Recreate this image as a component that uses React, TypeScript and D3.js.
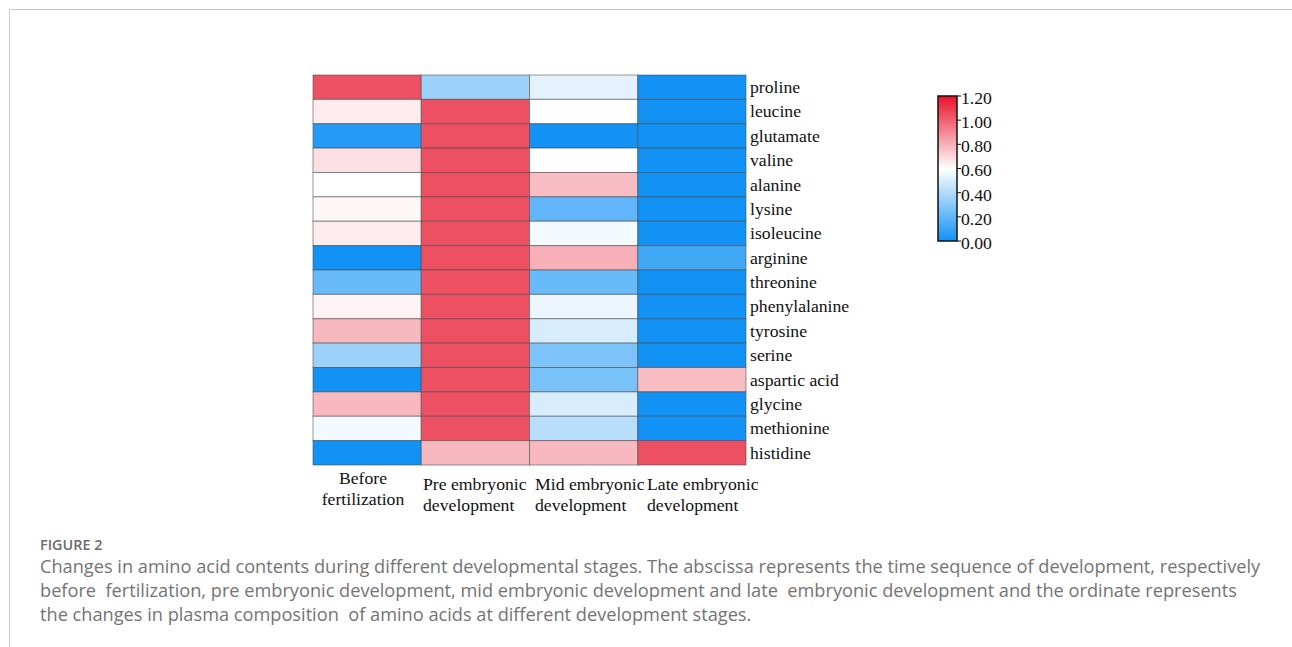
import React from "react";
import * as d3 from "d3";

const aminoAcids = [
  "proline", "leucine", "glutamate", "valine", "alanine", "lysine", "isoleucine",
  "arginine", "threonine", "phenylalanine", "tyrosine", "serine", "aspartic acid",
  "glycine", "methionine", "histidine",
];

const stages = [
  ["Before", "fertilization"],
  ["Pre embryonic", "development"],
  ["Mid embryonic", "development"],
  ["Late embryonic", "development"],
];

// relative content per stage, one value per amino acid (same order as aminoAcids)
const beforeFertilization = [1.04, 0.65, 0.05, 0.68, 0.6, 0.62, 0.65, 0.0, 0.22, 0.63, 0.78, 0.35, 0.0, 0.78, 0.57, 0.0];
const preEmbryonic = [0.35, 1.04, 1.04, 1.04, 1.04, 1.04, 1.04, 1.04, 1.04, 1.04, 1.04, 1.04, 1.04, 1.04, 1.04, 0.78];
const midEmbryonic = [0.53, 0.6, 0.0, 0.6, 0.77, 0.2, 0.57, 0.8, 0.22, 0.55, 0.5, 0.27, 0.26, 0.5, 0.42, 0.78];
const lateEmbryonic = [0.0, 0.0, 0.0, 0.0, 0.0, 0.0, 0.0, 0.12, 0.0, 0.0, 0.0, 0.0, 0.77, 0.0, 0.0, 1.04];

const legendTicks = [0, 0.2, 0.4, 0.6, 0.8, 1.0, 1.2];

const captionTitle = "FIGURE 2";
const captionLines = [
  "Changes in amino acid contents during different developmental stages. The abscissa represents the time sequence of development, respectively",
  "before  fertilization, pre embryonic development, mid embryonic development and late  embryonic development and the ordinate represents",
  "the changes in plasma composition  of amino acids at different development stages.",
];

const W = 1292;
const H = 647;

export default function App() {
  const columns = [beforeFertilization, preEmbryonic, midEmbryonic, lateEmbryonic];

  const x = d3.scaleBand<number>().domain(d3.range(stages.length)).range([313, 746]).padding(0);
  const y = d3.scaleBand<string>().domain(aminoAcids).range([75, 465]).padding(0);

  // label anchors: first stage centred, the embryonic stages left-aligned
  const labelLeft = d3.scaleLinear().domain([1, 3]).range([423, 647]);

  const color = d3
    .scaleLinear<string>()
    .domain([0, 0.6, 1.2])
    .range(["#1192f4", "#ffffff", "#e8112a"])
    .interpolate(d3.interpolateRgb)
    .clamp(true);

  const legendX = 938;
  const legendW = 19;
  const legendY = d3.scaleLinear().domain([0, 1.2]).range([241, 96]);
  const gradientStops = d3.range(0, 1.2001, 0.1);

  const serif = "'Liberation Serif', 'Times New Roman', serif";
  const sans = "'Open Sans', 'Noto Sans', sans-serif";
  const labelSize = 17.7;

  return (
    <svg
      width={W}
      height={H}
      style={{ position: "absolute", left: 0, top: 0, background: "#fff" }}
    >
      <defs>
        <linearGradient id="legendGrad" x1="0" y1="1" x2="0" y2="0">
          {gradientStops.map((v) => (
            <stop key={v} offset={`${(v / 1.2) * 100}%`} stopColor={color(v)} />
          ))}
        </linearGradient>
      </defs>

      {/* frame */}
      <line x1={9.5} y1={9.5} x2={W} y2={9.5} stroke="#cccccc" strokeWidth={1} />
      <line x1={9.5} y1={9.5} x2={9.5} y2={H} stroke="#cccccc" strokeWidth={1} />

      {/* heatmap cells */}
      <g>
        {columns.map((col, ci) =>
          col.map((v, ri) => (
            <rect
              key={`${ci}-${ri}`}
              x={x(ci)!}
              y={y(aminoAcids[ri])!}
              width={x.bandwidth()}
              height={y.bandwidth()}
              fill={color(v)}
              stroke="rgba(70,70,70,0.55)"
              strokeWidth={1}
            />
          ))
        )}
      </g>

      {/* row labels */}
      <g fontFamily={serif} fontSize={labelSize} fill="#111">
        {aminoAcids.map((a) => (
          <text key={a} x={750} y={y(a)! + y.bandwidth() / 2} dy="0.33em">
            {a}
          </text>
        ))}
      </g>

      {/* column labels */}
      <g fontFamily={serif} fontSize={labelSize} fill="#111">
        {stages.map((lines, i) => {
          const first = i === 0;
          const top = first ? 478 : 484;
          const ax = first ? 363 : labelLeft(i);
          return (
            <text key={i} x={ax} y={top} dy="0.33em" textAnchor={first ? "middle" : "start"}>
              <tspan x={ax}>{lines[0]}</tspan>
              <tspan x={ax} dy={21}>
                {lines[1]}
              </tspan>
            </text>
          );
        })}
      </g>

      {/* colour legend */}
      <rect
        x={legendX}
        y={legendY(1.2)}
        width={legendW}
        height={legendY(0) - legendY(1.2)}
        fill="url(#legendGrad)"
        stroke="#111"
        strokeWidth={1.5}
      />
      <g fontFamily={serif} fontSize={labelSize} fill="#111">
        {legendTicks.map((t) => (
          <g key={t} transform={`translate(${legendX + legendW},${legendY(t)})`}>
            <line x1={0} x2={4} stroke="#111" strokeWidth={1} />
            <text x={4} dy="0.33em" y={2}>
              {d3.format(".2f")(t)}
            </text>
          </g>
        ))}
      </g>

      {/* caption */}
      <text x={40} y={550} fontFamily={sans} fontSize={14.4} fontWeight={600} fill="#6b6b6b">
        {captionTitle}
      </text>
      <g fontFamily={sans} fontSize={18.2} fill="#747474">
        {captionLines.map((l, i) => (
          <text key={i} x={40} y={573 + i * 24} style={{ whiteSpace: "pre" }}>
            {l}
          </text>
        ))}
      </g>
    </svg>
  );
}
